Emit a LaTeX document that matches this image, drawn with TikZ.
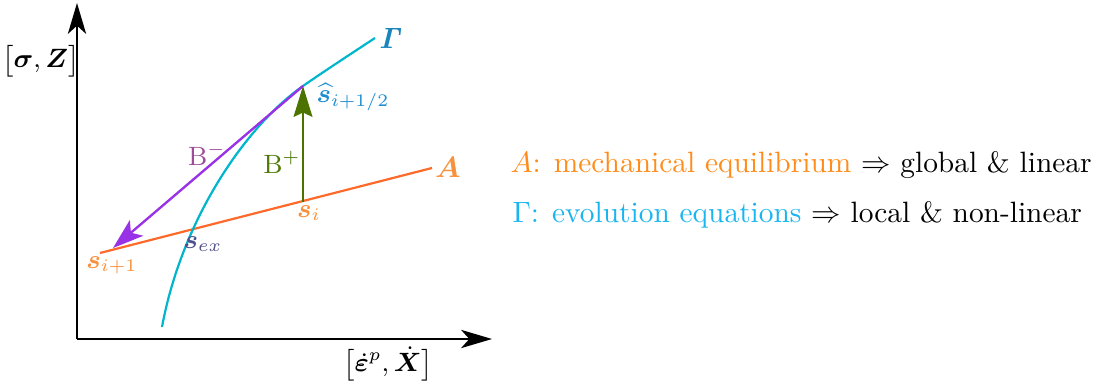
\documentclass[tikz,border=0pt]{standalone}
\usepackage{amsmath,amssymb,bm}
\usetikzlibrary{arrows.meta}
\definecolor{orline}{HTML}{FF6A2A}
\definecolor{orlab}{HTML}{F7913D}
\definecolor{ortext}{HTML}{FF8C1A}
\definecolor{gcurve}{HTML}{00B5CC}
\definecolor{glab}{HTML}{1A85BD}
\definecolor{shlab}{HTML}{1E8ED0}
\definecolor{gtext}{HTML}{19B5F0}
\definecolor{purp}{HTML}{9932E6}
\definecolor{bminus}{HTML}{A04A9A}
\definecolor{bplus}{HTML}{4F7A0A}
\definecolor{garrow}{HTML}{4C7300}
\definecolor{sex}{HTML}{50508C}
\tikzset{
  axis/.style={line width=0.8pt,-{Stealth[length=10.5pt,width=6.2pt,inset=2.8pt]}},
  lab/.style={inner sep=0pt,font=\small},
  rtext/.style={inner sep=0pt,anchor=west},
}
\begin{document}
\begin{tikzpicture}[x=0.34pt,y=-0.34pt]
\useasboundingbox (0,0) rectangle (1094,383);
% points
\coordinate (O) at (77,339);
\coordinate (Ytop) at (77,3);
\coordinate (Xend) at (492,339);
\coordinate (Astart) at (100,253);
\coordinate (Aend) at (432,168);
\coordinate (si) at (303,202);
\coordinate (sh) at (303,86);
\coordinate (sip) at (113,248);
\coordinate (g0) at (162,327);
\coordinate (g1) at (375,38);
% axes
\draw[axis] (O) -- (Ytop);
\draw[axis] (O) -- (Xend);
\node[lab] (ylab) at (41,61) {$\big[\bm{\sigma},\bm{Z}\big]$};
\node[lab] (xlab) at (388,364) {$\big[\dot{\bm{\varepsilon}}^{p},\dot{\bm{X}}\big]$};
% A line
\draw[orline,line width=0.75pt] (Astart) -- (Aend);
\node[lab,text=orlab,font=\normalsize] (Alab) at (448,167) {$\bm{A}$};
% Gamma curve
\draw[gcurve,line width=0.75pt] (g0) .. controls (182,219) and (246,126) .. (sh)
   .. controls (323.5,71.7) and (354,51.8) .. (g1);
\node[lab,text=glab,font=\normalsize] (Glab) at (391,38) {$\bm{\mathit{\Gamma}}$};
% arrows
\draw[garrow,line width=0.8pt,-{Stealth[length=10.5pt,width=6.4pt,inset=1.5pt]}] (si) -- (sh);
\draw[purp,line width=0.8pt,-{Stealth[length=10.5pt,width=7pt,inset=2.5pt]}] (sh) -- (sip);
% labels
\node[lab,text=shlab,anchor=west] (shl) at (316,97) {$\widehat{\bm{s}}_{i+1/2}$};
\node[lab,text=orlab] (sil) at (309,213) {$\bm{s}_i$};
\node[lab,text=orlab] (sipl) at (112,265) {$\bm{s}_{i+1}$};
\node[lab,text=sex] (sexl) at (203,244) {$\bm{s}_{ex}$};
\node[lab,text=bplus] (bpl) at (282,162) {$\mathrm{B}^{+}$};
\node[lab,text=bminus] (bml) at (207,154) {$\mathrm{B}^{-}$};
% right text
\node[rtext] (t1) at (510,165) {\textcolor{ortext}{$A$: mechanical equilibrium} $\Rightarrow$ global \& linear};
\node[rtext] (t2) at (512,215) {\textcolor{gtext}{$\Gamma$: evolution equations} $\Rightarrow$ local \& non-linear};
\end{tikzpicture}
\end{document}
